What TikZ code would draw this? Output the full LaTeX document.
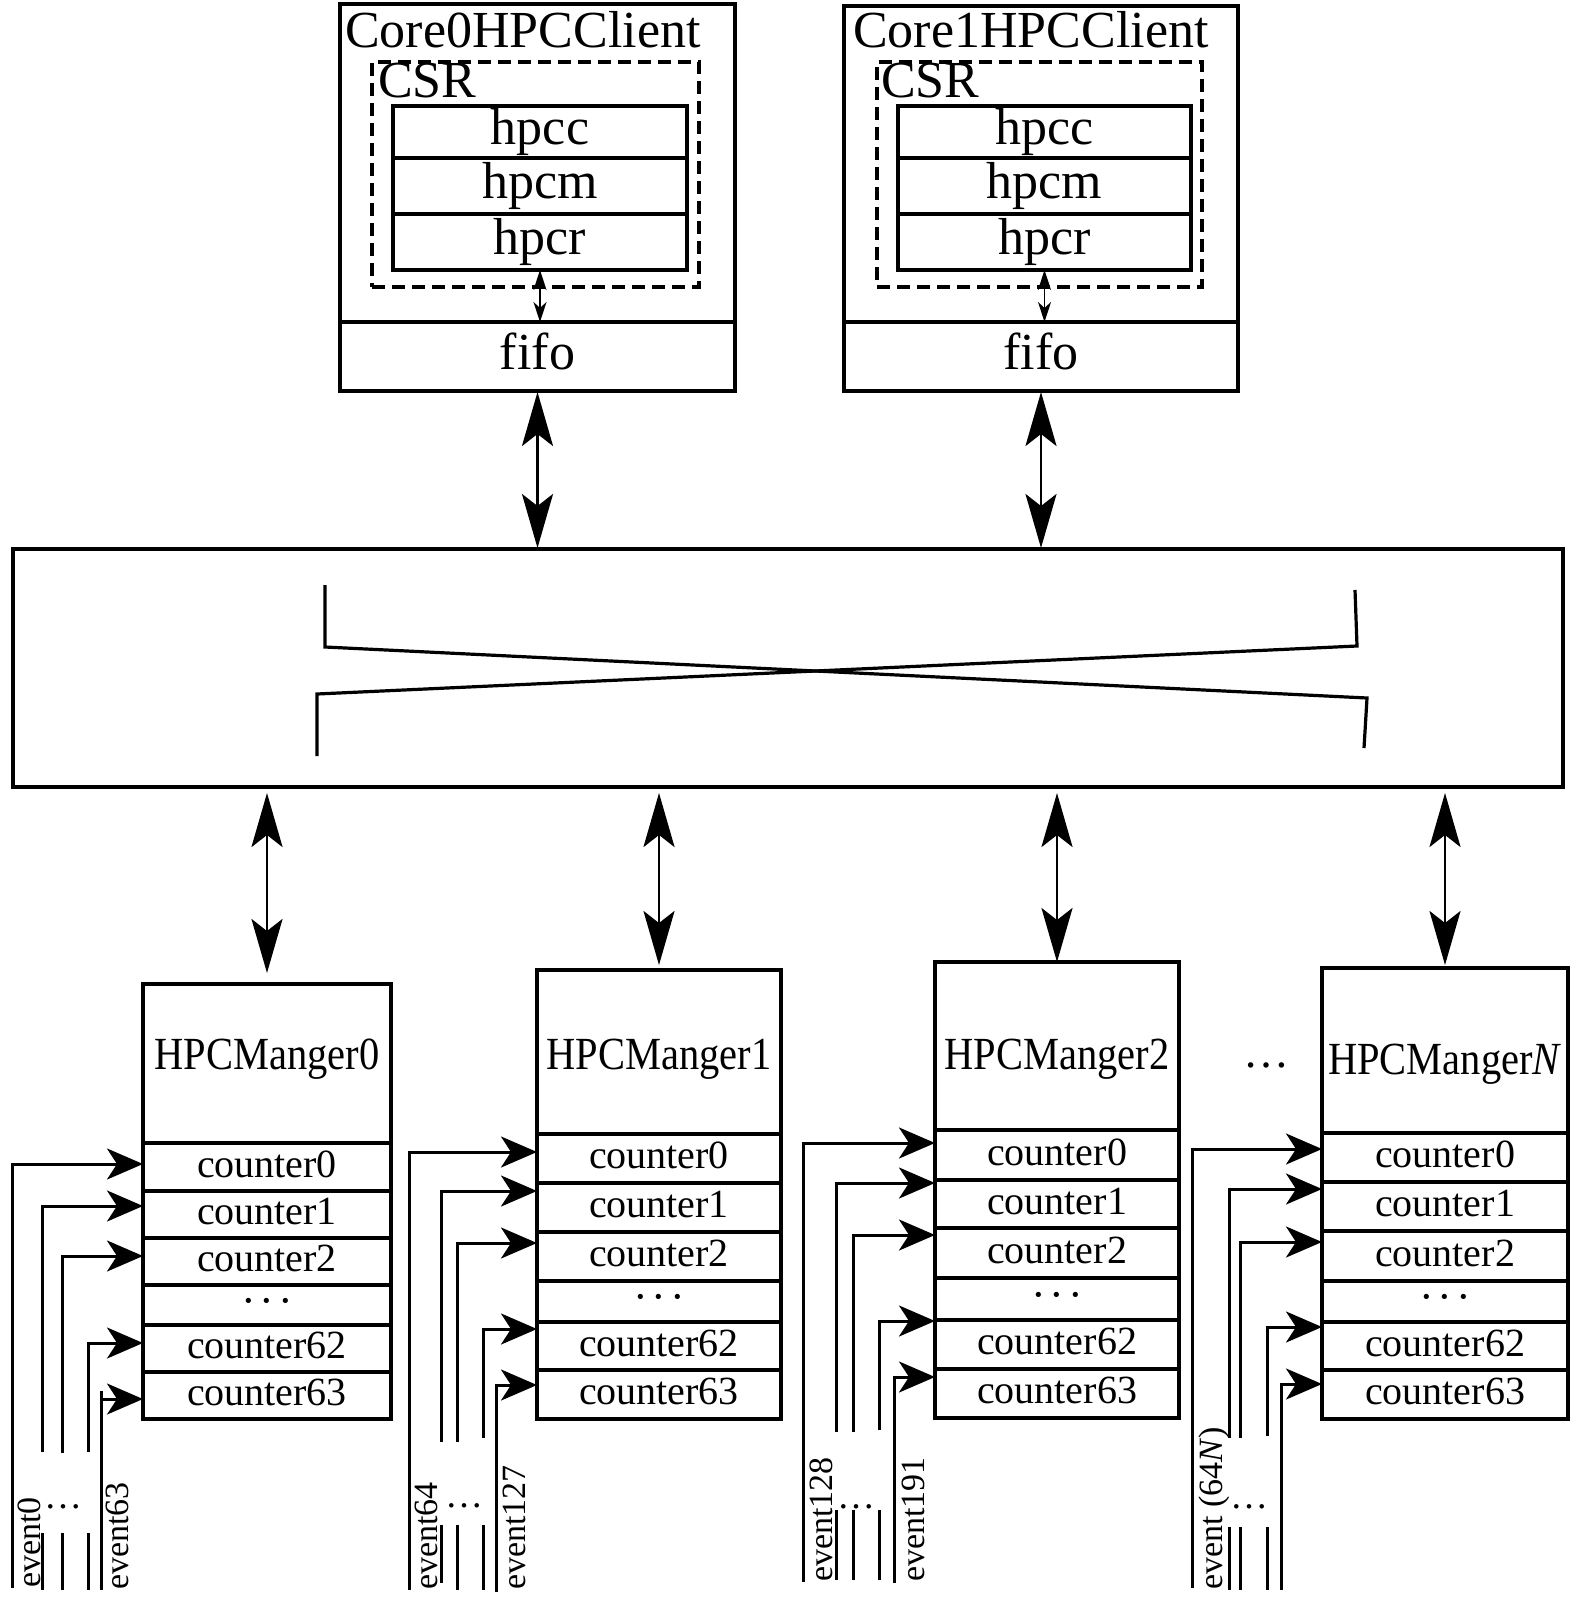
\documentclass[tikz,border=0pt]{standalone}
\usepackage{fontspec}
\setmainfont{Liberation Serif}
\usepackage{graphicx}
\usetikzlibrary{arrows.meta}

\tikzset{
  box/.style={draw, line width=3.2pt, inner sep=0pt, outer sep=0pt, anchor=north west},
  bigfont/.style={font=\fontsize{52}{60}\selectfont, text height=36.4pt, text depth=10.4pt},
  cnt/.style={box, font=\fontsize{40}{48}\selectfont, text height=28pt, text depth=8pt},
  dashbox/.style={draw, line width=3.2pt, dash pattern=on 13pt off 7pt, anchor=north west, inner sep=0pt, outer sep=0pt},
  titletext/.style={anchor=base west, inner sep=0pt, font=\fontsize{52}{60}\selectfont},
  bigarrow/.style={line width=2.8pt, {Stealth[length=54pt,width=31pt,inset=12pt]}-{Stealth[length=54pt,width=31pt,inset=12pt]}},
  smallarrow/.style={line width=1.8pt, {Stealth[length=20pt,width=13pt,inset=6pt]}-{Stealth[length=20pt,width=13pt,inset=6pt]}},
  evarrow/.style={line width=3pt, -{Stealth[length=36pt,width=31pt,inset=10pt]}},
  evline/.style={line width=3pt},
  crossline/.style={line width=3.2pt},
  evlabel/.style={rotate=90, anchor=base west, inner sep=0pt, font=\fontsize{34}{40}\selectfont},
  dotsl/.style={anchor=base, inner sep=0pt, font=\fontsize{38}{44}\selectfont},
  hdr/.style={anchor=base, inner sep=0pt, font=\fontsize{46}{52}\selectfont},
}
\newcommand\cellbox[6]{\node[cnt, minimum width=#5pt, minimum height={(#4-#3)*1pt}] (#1) at (#2,#3) {#6};}
\newcommand\rowdots{{\fontsize{44}{50}\selectfont ·\kern4pt·\kern4pt·}}

\begin{document}
\begin{tikzpicture}[x=1pt,y=-1pt]
\useasboundingbox (0,0) rectangle (1575,1602);

% ---------- Core0 client ----------
\node[box, minimum width=395pt, minimum height=318pt] (c0) at (340,4) {};
\node[box, bigfont, minimum width=395pt, minimum height=69pt] (f0) at (340,322) {fifo};
\node[titletext] (t0) at (345,48) {Core0HPCClient};
\node[dashbox, minimum width=327pt, minimum height=225pt] (d0) at (372,62) {};
\node[titletext] (s0) at (378,98) {CSR};
\node[box, bigfont, minimum width=294pt, minimum height=52pt] (r0c) at (393,106) {hpcc};
\node[box, bigfont, minimum width=294pt, minimum height=56pt] (r0m) at (393,158) {hpcm};
\node[box, bigfont, minimum width=294pt, minimum height=56pt] (r0r) at (393,214) {hpcr};
\draw[smallarrow] (r0r.south) -- (r0r.south |- f0.north);

% ---------- Core1 client ----------
\node[box, minimum width=394pt, minimum height=316pt] (c1) at (844,6) {};
\node[box, bigfont, minimum width=394pt, minimum height=69pt] (f1) at (844,322) {fifo};
\node[titletext] (t1) at (853,48) {Core1HPCClient};
\node[dashbox, minimum width=325pt, minimum height=225pt] (d1) at (877,62) {};
\node[titletext] (s1) at (881,98) {CSR};
\node[box, bigfont, minimum width=293pt, minimum height=52pt] (r1c) at (898,106) {hpcc};
\node[box, bigfont, minimum width=293pt, minimum height=56pt] (r1m) at (898,158) {hpcm};
\node[box, bigfont, minimum width=293pt, minimum height=56pt] (r1r) at (898,214) {hpcr};
\draw[smallarrow] (r1r.south) -- (r1r.south |- f1.north);

% ---------- bus ----------
\node[box, minimum width=1550pt, minimum height=238pt] (bus) at (13,549) {};
\draw[bigarrow, shorten <=1pt, shorten >=1pt] (f0.south) -- (f0.south |- bus.north);
\draw[bigarrow, shorten <=1pt, shorten >=1pt] (f1.south) -- (f1.south |- bus.north);
\draw[crossline] (325,585) -- (325,647) -- (1367,698) -- (1364,748);
\draw[crossline] (317,756) -- (317,694) -- (1357,646) -- (1355,590);

% ---------- Manager 0 ----------
\cellbox{m0h}{143}{984}{1143}{248}{}
\cellbox{m0a}{143}{1143}{1191}{248}{counter0}
\cellbox{m0b}{143}{1191}{1238}{248}{counter1}
\cellbox{m0c}{143}{1238}{1285}{248}{counter2}
\cellbox{m0d}{143}{1285}{1325}{248}{\rowdots}
\cellbox{m0y}{143}{1325}{1372}{248}{counter62}
\cellbox{m0z}{143}{1372}{1419}{248}{counter63}
\node[hdr] (m0t) at (267,1069) {\scalebox{0.88}[1]{HPCManger0}};
\draw[bigarrow, shorten <=6pt, shorten >=11pt] (bus.south -| m0h.north) -- (m0h.north);

\coordinate (m0e0) at (12,1588);
\coordinate (m0e1) at (42,1452);
\coordinate (m0e2) at (62,1453);
\coordinate (m0e62) at (88,1452);
\coordinate (m0e63) at (101,1590);
\draw[evarrow] (m0e0) |- ([yshift=3pt]m0a.west);
\draw[evarrow] (m0e1) |- ([yshift=8.5pt]m0b.west);
\draw[evarrow] (m0e2) |- ([yshift=5.5pt]m0c.west);
\draw[evarrow] (m0e62) |- ([yshift=5.5pt]m0y.west);
\draw[evarrow] (m0e63) |- ([yshift=-3.5pt]m0z.west);
\draw[evline] (101,1399) -- (101,1391);
\draw[evline] (42,1533) -- (42,1590);
\draw[evline] (62,1533) -- (62,1590);
\draw[evline] (88,1533) -- (88,1590);
\node[evlabel] (m0l0) at (40,1588) {event0};
\node[evlabel] (m0l63) at (128,1590) {event63};
\node[dotsl] (m0dots) at (63,1508) {\textellipsis};

% ---------- Manager 1 ----------
\cellbox{m1h}{537}{970}{1134}{244}{}
\cellbox{m1a}{537}{1134}{1183}{244}{counter0}
\cellbox{m1b}{537}{1183}{1232}{244}{counter1}
\cellbox{m1c}{537}{1232}{1281}{244}{counter2}
\cellbox{m1d}{537}{1281}{1322}{244}{\rowdots}
\cellbox{m1y}{537}{1322}{1370}{244}{counter62}
\cellbox{m1z}{537}{1370}{1419}{244}{counter63}
\node[hdr] (m1t) at (659,1069) {\scalebox{0.88}[1]{HPCManger1}};
\draw[bigarrow, shorten <=6pt, shorten >=5pt] (bus.south -| m1h.north) -- (m1h.north);

\coordinate (m1e0) at (409,1590);
\coordinate (m1e1) at (441,1442);
\coordinate (m1e2) at (457,1442);
\coordinate (m1e62) at (483,1438);
\coordinate (m1e63) at (496,1592);
\draw[evarrow] (m1e0) |- ([yshift=6.5pt]m1a.west);
\draw[evarrow] (m1e1) |- ([yshift=16.5pt]m1b.west);
\draw[evarrow] (m1e2) |- ([yshift=13.5pt]m1c.west);
\draw[evarrow] (m1e62) |- ([yshift=17pt]m1y.west);
\draw[evarrow] (m1e63) |- ([yshift=9.5pt]m1z.west);
\draw[evline] (441,1525) -- (441,1583);
\draw[evline] (457,1525) -- (457,1590);
\draw[evline] (483,1525) -- (483,1590);
\node[evlabel] (m1l0) at (437,1590) {event64};
\node[evlabel] (m1l63) at (525,1590) {event127};
\node[dotsl] (m1dots) at (464,1507) {\textellipsis};

% ---------- Manager 2 ----------
\cellbox{m2h}{935}{962}{1130}{244}{}
\cellbox{m2a}{935}{1130}{1180}{244}{counter0}
\cellbox{m2b}{935}{1180}{1228}{244}{counter1}
\cellbox{m2c}{935}{1228}{1278}{244}{counter2}
\cellbox{m2d}{935}{1278}{1320}{244}{\rowdots}
\cellbox{m2y}{935}{1320}{1369}{244}{counter62}
\cellbox{m2z}{935}{1369}{1418}{244}{counter63}
\node[hdr] (m2t) at (1057,1069) {\scalebox{0.88}[1]{HPCManger2}};
\draw[bigarrow, shorten <=6pt, shorten >=0pt] (bus.south -| m2h.north) -- (m2h.north);

\coordinate (m2e0) at (803,1582);
\coordinate (m2e1) at (836,1432);
\coordinate (m2e2) at (853,1432);
\coordinate (m2e62) at (879,1430);
\coordinate (m2e63) at (894,1583);
\draw[evarrow] (m2e0) |- ([yshift=12pt]m2a.west);
\draw[evarrow] (m2e1) |- ([yshift=21pt]m2b.west);
\draw[evarrow] (m2e2) |- ([yshift=18pt]m2c.west);
\draw[evarrow] (m2e62) |- ([yshift=23.5pt]m2y.west);
\draw[evarrow] (m2e63) |- ([yshift=16.5pt]m2z.west);
\draw[evline] (836,1510) -- (836,1580);
\draw[evline] (853,1510) -- (853,1580);
\draw[evline] (879,1510) -- (879,1580);
\node[evlabel] (m2l0) at (832,1582) {event128};
\node[evlabel] (m2l63) at (924,1582) {event191};
\node[dotsl] (m2dots) at (856,1508) {\textellipsis};

% ---------- gap dots ----------
\node[anchor=base, inner sep=0pt, font=\fontsize{46}{52}\selectfont] (gapdots) at (1266,1067) {\textellipsis};

% ---------- Manager N ----------
\cellbox{mnh}{1322}{968}{1133}{246}{}
\cellbox{mna}{1322}{1133}{1182}{246}{counter0}
\cellbox{mnb}{1322}{1182}{1231}{246}{counter1}
\cellbox{mnc}{1322}{1231}{1281}{246}{counter2}
\cellbox{mnd}{1322}{1281}{1322}{246}{\rowdots}
\cellbox{mny}{1322}{1322}{1370}{246}{counter62}
\cellbox{mnz}{1322}{1370}{1419}{246}{counter63}
\node[hdr] (mnt) at (1445,1074) {\scalebox{0.88}[1]{HPCManger\textit{N}}};
\draw[bigarrow, shorten <=6pt, shorten >=3pt] (bus.south -| mnh.north) -- (mnh.north);

\coordinate (mne0) at (1192,1588);
\coordinate (mne1) at (1229,1438);
\coordinate (mne2) at (1240,1438);
\coordinate (mne62) at (1267,1436);
\coordinate (mne63) at (1281,1590);
\draw[evarrow] (mne0) |- ([yshift=8.5pt]mna.west);
\draw[evarrow] (mne1) |- ([yshift=17.5pt]mnb.west);
\draw[evarrow] (mne2) |- ([yshift=14pt]mnc.west);
\draw[evarrow] (mne62) |- ([yshift=19pt]mny.west);
\draw[evarrow] (mne63) |- ([yshift=10.5pt]mnz.west);
\draw[evline] (1229,1527) -- (1229,1590);
\draw[evline] (1240,1527) -- (1240,1590);
\draw[evline] (1267,1527) -- (1267,1590);
\node[evlabel] (mnl0) at (1222,1590) {event (64\textit{N})};
\node[dotsl] (mndots) at (1249,1508) {\textellipsis};
\end{tikzpicture}
\end{document}
